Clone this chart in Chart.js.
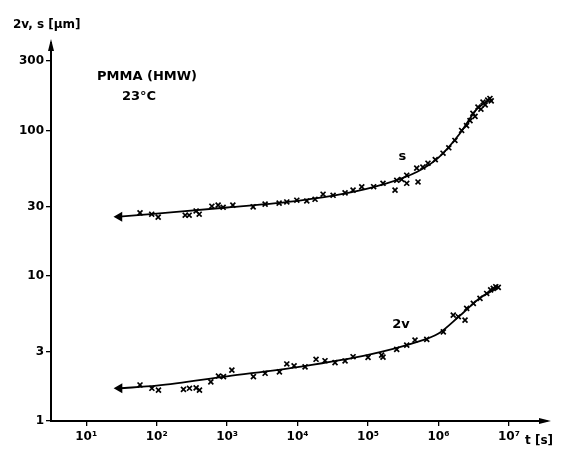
<!DOCTYPE html>
<html>
<head>
<meta charset="utf-8">
<script src="https://cdn.jsdelivr.net/npm/chart.js@4"></script>
<style>
  html, body { margin: 0; padding: 0; background: #fff; }
  #wrap { width: 570px; height: 453px; position: relative; }
</style>
</head>
<body>
<div id="wrap"><canvas id="c"></canvas></div>
<script>
(function () {
    'use strict';

    // time axis ticks and labels
    var X_TICKS = [10, 100, 1000, 10000, 100000, 1000000, 10000000];
    var X_LABELS = ['10\u00b9', '10\u00b2', '10\u00b3', '10\u2074', '10\u2075', '10\u2076', '10\u2077'];
    var Y_TICKS = [1, 3, 10, 30, 100, 300];
    var Y_LABELS = ['1', '3', '10', '30', '100', '300'];

    // s (craze length), measured points: t [s], s [um]
    var S_T = [58, 85, 105, 254, 289, 363, 401, 607, 745, 877, 1205, 2340, 3460, 5470, 7030, 9750,
        13500, 17700, 23000, 31900, 47200, 61300, 81400, 120000, 163000, 241600, 255500, 300000,
        354000, 354000, 491000, 512000, 600000, 709000, 900000, 1160000, 1400000, 1710000, 2130000,
        2500000, 2800000, 3080000, 3300000, 3630000, 4000000, 4280000, 4600000, 5000000, 5370000, 5600000];
    var S_V = [27.1, 26.5, 25.3, 26.1, 26.1, 27.9, 26.5, 30.1, 30.6, 29.6, 30.6, 29.8, 31.1, 31.6, 32.2, 33.1,
        32.7, 33.6, 36.4, 35.8, 37.2, 38.8, 40.9, 41, 43.3, 38.8, 45.4, 46,
        49.2, 43.3, 55, 44.2, 56, 59.5, 63, 69.7, 76, 85.3, 100,
        108, 117, 131, 125, 145, 140, 157, 150, 162, 166, 160];
    // s, drawn curve
    var S_FIT_T = [29.5, 100, 1000, 10000, 50000, 150000, 500000, 1000000, 2000000, 3500000, 5500000];
    var S_FIT_V = [25.5, 26.8, 29.5, 32.8, 37, 42, 52, 65, 95, 140, 165];

    // 2v (craze width), measured points
    var V_T = [58, 85.5, 106, 240, 292, 363, 405, 587, 753, 887, 1167, 2360, 3460, 5520, 7030, 8920,
        12770, 18280, 24500, 34000, 47200, 61300, 100000, 156000, 163000, 255000, 354000, 464000,
        681000, 1170000, 1620000, 1910000, 2380000, 2510000, 3120000, 3880000, 4830000, 5500000,
        5990000, 6500000, 7050000];
    var V_V = [1.77, 1.68, 1.63, 1.65, 1.68, 1.69, 1.63, 1.86, 2.04, 2.02, 2.24, 2.02, 2.13, 2.18, 2.47, 2.40,
        2.36, 2.66, 2.60, 2.52, 2.59, 2.77, 2.74, 2.84, 2.75, 3.11, 3.33, 3.61,
        3.65, 4.11, 5.36, 5.22, 4.95, 5.96, 6.45, 6.98, 7.55, 8.0,
        8.18, 8.4, 8.31];
    var V_FIT_T = [29.6, 100, 1000, 10000, 100000, 500000, 1000000, 2000000, 4000000, 7000000];
    var V_FIT_V = [1.68, 1.75, 2.03, 2.35, 2.85, 3.5, 4.0, 5.3, 7.1, 8.3];

    var FONT = 'DejaVu Sans';

    function pts(xs, ys) {
        var out = [];
        for (var i = 0; i < xs.length; i++) {
            out.push({ x: xs[i], y: ys[i] });
        }
        return out;
    }

    function crossSet(xs, ys) {
        return {
            data: pts(xs, ys),
            showLine: false,
            pointStyle: 'crossRot',
            pointRadius: 3.5,
            pointBorderWidth: 1.7,
            borderColor: '#000',
            backgroundColor: '#000'
        };
    }

    function curveSet(xs, ys) {
        var radii = [];
        for (var i = 0; i < xs.length; i++) {
            radii.push(i === 0 ? 4 : 0);
        }
        return {
            data: pts(xs, ys),
            showLine: true,
            borderColor: '#000',
            borderWidth: 1.8,
            cubicInterpolationMode: 'monotone',
            pointStyle: 'triangle',
            pointRotation: 270,
            pointRadius: radii,
            pointBackgroundColor: '#000',
            pointBorderColor: '#000'
        };
    }

    var decor = {
        id: 'decor',
        afterDraw: function (chart) {
            var ctx = chart.ctx;
            var a = chart.chartArea;
            var xs = chart.scales.x;
            var ys = chart.scales.y;
            ctx.save();
            ctx.fillStyle = '#000';
            // axis arrowheads
            ctx.beginPath();
            ctx.moveTo(a.left, a.top - 4);
            ctx.lineTo(a.left - 3, a.top + 8);
            ctx.lineTo(a.left + 3, a.top + 8);
            ctx.closePath();
            ctx.fill();
            ctx.beginPath();
            ctx.moveTo(a.right + 4, a.bottom);
            ctx.lineTo(a.right - 8, a.bottom - 3);
            ctx.lineTo(a.right - 8, a.bottom + 3);
            ctx.closePath();
            ctx.fill();

            ctx.textBaseline = 'middle';
            ctx.font = 'bold 12px "' + FONT + '"';
            ctx.textAlign = 'left';
            ctx.fillText('2v, s [\u00b5m]', 13, 25);
            ctx.fillText('t [s]', 525, 441);
            ctx.font = 'bold 13px "' + FONT + '"';
            ctx.fillText('PMMA (HMW)', 97, 77);
            ctx.fillText('23\u00b0C', 122, 97);
            ctx.fillText('s', xs.getPixelForValue(270000), ys.getPixelForValue(66));
            ctx.fillText('2v', xs.getPixelForValue(220000), ys.getPixelForValue(4.6));
            ctx.restore();
        }
    };

    new Chart(document.getElementById('c'), {
        type: 'scatter',
        data: {
            datasets: [
                crossSet(S_T, S_V),
                curveSet(S_FIT_T, S_FIT_V),
                crossSet(V_T, V_V),
                curveSet(V_FIT_T, V_FIT_V)
            ]
        },
        options: {
            responsive: true,
            maintainAspectRatio: false,
            animation: false,
            layout: { padding: { top: 43, right: 23, left: 0, bottom: 0 } },
            plugins: {
                legend: { display: false },
                tooltip: { enabled: false }
            },
            scales: {
                x: {
                    type: 'logarithmic',
                    min: Math.pow(10, 0.5),
                    max: Math.pow(10, 7.54),
                    afterBuildTicks: function (s) {
                        s.ticks = X_TICKS.map(function (v) { return { value: v }; });
                    },
                    afterFit: function (s) { s.height = 32; },
                    ticks: {
                        autoSkip: false,
                        maxRotation: 0,
                        color: '#000',
                        padding: 4,
                        font: { family: FONT, size: 12, weight: 'bold' },
                        callback: function (v) {
                            var i = X_TICKS.indexOf(v);
                            return i < 0 ? '' : X_LABELS[i];
                        }
                    },
                    grid: { drawOnChartArea: false, drawTicks: true, tickLength: 5, color: '#000', lineWidth: 1.3 },
                    border: { display: true, color: '#000', width: 2 }
                },
                y: {
                    type: 'logarithmic',
                    min: 1,
                    max: 400,
                    afterBuildTicks: function (s) {
                        s.ticks = Y_TICKS.map(function (v) { return { value: v }; });
                    },
                    afterFit: function (s) { s.width = 51; },
                    ticks: {
                        autoSkip: false,
                        color: '#000',
                        padding: 2,
                        font: { family: FONT, size: 12, weight: 'bold' },
                        callback: function (v) {
                            var i = Y_TICKS.indexOf(v);
                            return i < 0 ? '' : Y_LABELS[i];
                        }
                    },
                    grid: { drawOnChartArea: false, drawTicks: true, tickLength: 5, color: '#000', lineWidth: 1.3 },
                    border: { display: true, color: '#000', width: 2 }
                }
            }
        },
        plugins: [decor]
    });
})();
</script>
</body>
</html>
